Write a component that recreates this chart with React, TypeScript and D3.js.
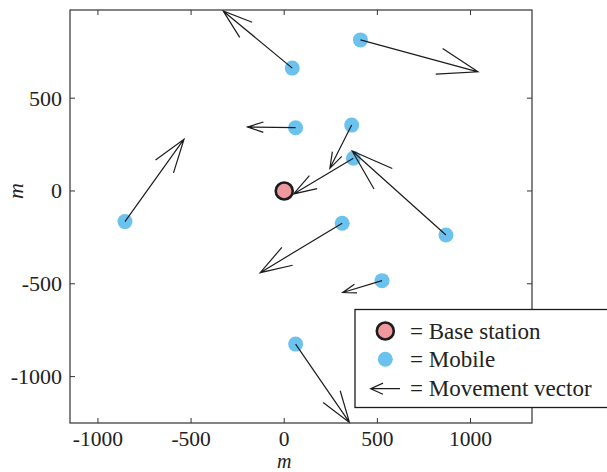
import React from "react";
import * as d3 from "d3";

const mobileX = [43, 409, 61, -855, 362, 371, 311, 868, 525, 61];
const mobileY = [662, 814, 341, -165, 355, 176, -174, -237, -483, -825];
const moveU = [-371, 631, -258, 317, -117, -321, -440, -503, -211, 289];
const moveV = [308, -172, 4, 444, -233, -192, -266, 452, -64, -422];
const baseX = [0];
const baseY = [0];
const xTicks = [-1000, -500, 0, 500, 1000];
const yTicks = [-1000, -500, 0, 500];
const legendLabels = ["= Base station", "= Mobile", "= Movement vector"];

const W = 607;
const H = 472;
const FONT = '"Liberation Serif", "Times New Roman", "DejaVu Serif", serif';
const BLUE = "#6cc2ef";
const PINK = "#ee999e";
const INK = "#1c1c1c";

function arrowPath(x0: number, y0: number, x1: number, y1: number, alpha = 0.33, beta = 0.33) {
  const u = x1 - x0;
  const v = y1 - y0;
  const b1x = x1 - alpha * (u + beta * v);
  const b1y = y1 - alpha * (v - beta * u);
  const b2x = x1 - alpha * (u - beta * v);
  const b2y = y1 - alpha * (v + beta * u);
  return `M${x0},${y0}L${x1},${y1}M${b1x},${b1y}L${x1},${y1}L${b2x},${b2y}`;
}

export default function App() {
  const left = 70, right = 532, top = 10, bottom = 423;
  const x = d3.scaleLinear().domain([-1150, 1330]).range([left, right]);
  const y = d3.scaleLinear().domain([-1250, 975]).range([bottom, top]);
  const tl = 5;
  const txt = { fontFamily: FONT };

  return (
    <svg width={W} height={H} style={{ position: "fixed", left: 0, top: 0, background: "#fff" }}>
      <rect x={0} y={0} width={W} height={H} fill="#fff" />
      {mobileX.map((mx, i) => (
        <circle key={"m" + i} cx={x(mx)} cy={y(mobileY[i])} r={7.5} fill={BLUE} />
      ))}
      {mobileX.map((mx, i) => (
        <path
          key={"a" + i}
          d={arrowPath(x(mx), y(mobileY[i]), x(mx + moveU[i]), y(mobileY[i] + moveV[i]))}
          fill="none"
          stroke={INK}
          strokeWidth={1.2}
        />
      ))}
      {baseX.map((bx, i) => (
        <circle key={"b" + i} cx={x(bx)} cy={y(baseY[i])} r={8.5} fill={PINK} stroke={INK} strokeWidth={2.6} />
      ))}
      <rect x={left} y={top} width={right - left} height={bottom - top} fill="none" stroke="#333" strokeWidth={1.2} />
      {xTicks.map((t) => (
        <g key={"xt" + t}>
          <line x1={x(t)} x2={x(t)} y1={bottom} y2={bottom - tl} stroke="#333" strokeWidth={1} />
          <line x1={x(t)} x2={x(t)} y1={top} y2={top + tl} stroke="#333" strokeWidth={1} />
          <text x={x(t)} y={446} textAnchor="middle" style={txt} fontSize={21.5} fill="#222">
            {t}
          </text>
        </g>
      ))}
      {yTicks.map((t) => (
        <g key={"yt" + t}>
          <line x1={left} x2={left + tl} y1={y(t)} y2={y(t)} stroke="#333" strokeWidth={1} />
          <line x1={right} x2={right - tl} y1={y(t)} y2={y(t)} stroke="#333" strokeWidth={1} />
          <text x={62} y={y(t) + 7.5} textAnchor="end" style={txt} fontSize={22} fill="#222">
            {t}
          </text>
        </g>
      ))}
      <text x={x(0)} y={467.5} textAnchor="middle" style={txt} fontStyle="italic" fontSize={20} fill="#222">
        m
      </text>
      <text
        transform={`translate(23,${y(0)}) rotate(-90)`}
        textAnchor="middle"
        style={txt}
        fontStyle="italic"
        fontSize={22}
        fill="#222"
      >
        m
      </text>
      <rect x={355} y={309.5} width={270} height={98} fill="#fff" stroke={INK} strokeWidth={1.3} />
      <circle cx={385.3} cy={331} r={8.5} fill={PINK} stroke={INK} strokeWidth={2.6} />
      <circle cx={385.3} cy={359.3} r={7.5} fill={BLUE} />
      <path d={arrowPath(400, 388.7, 370.7, 388.7, 0.42, 0.45)} fill="none" stroke={INK} strokeWidth={1.2} />
      {legendLabels.map((s, i) => (
        <text key={s} x={410} y={338.5 + i * 28.5} style={txt} fontSize={23} fill="#222">
          {s}
        </text>
      ))}
    </svg>
  );
}
